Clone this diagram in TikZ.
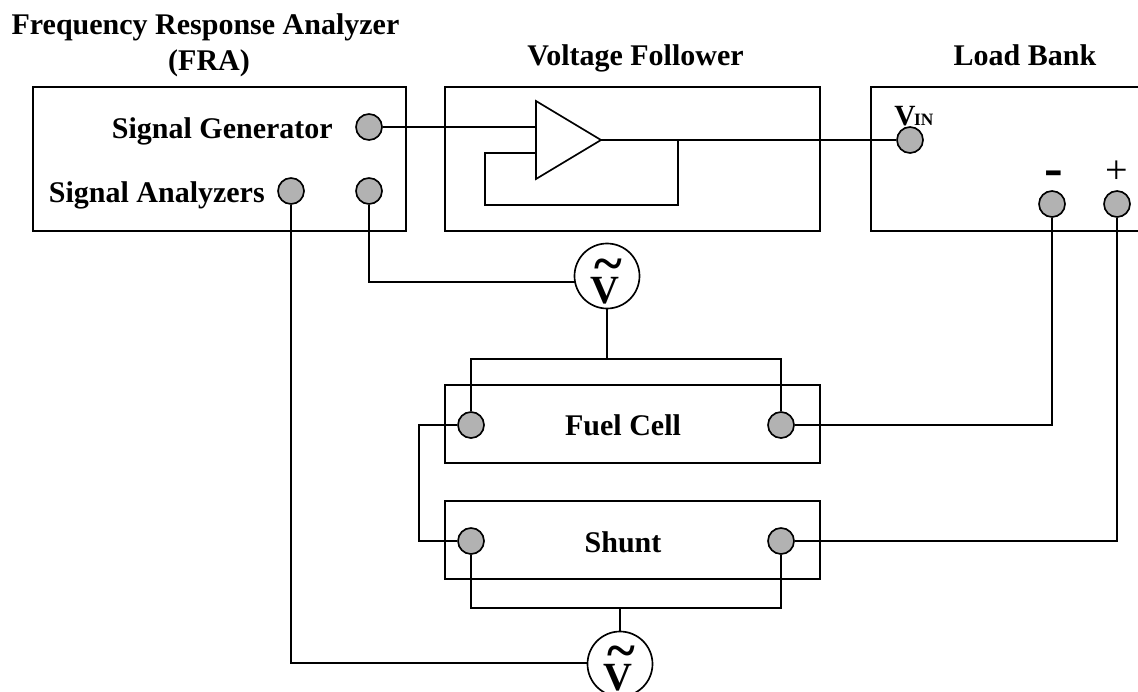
\documentclass[tikz,border=0pt]{standalone}
\usepackage{fontspec}
\setmainfont{Liberation Serif}
\definecolor{termgray}{HTML}{B2B2B2}
\newcommand{\px}{*0.75pt}
\tikzset{
 wire/.style={draw=black,line width=1.25pt},
 boxline/.style={draw=black,line width=1.25pt},
 term/.style={circle,draw=black,line width=1.25pt,fill=termgray,minimum size=26\px,inner sep=0pt},
 meter/.style={circle,draw=black,line width=1.25pt,fill=white,minimum size=65\px,inner sep=0pt},
 lab/.style={inner sep=0pt,anchor=base,font=\fontsize{22.5}{24}\selectfont\bfseries}
}
\begin{document}
\begin{tikzpicture}[x=0.75pt,y=-0.75pt]
\useasboundingbox (0,0) rectangle (1138,692);
% boxes
\draw[boxline] (33,87) rectangle (406,231);
\draw[boxline] (445,87) rectangle (820,231);
\draw[boxline] (1138,87) -- (871,87) -- (871,231) -- (1138,231);
\draw[boxline] (445,385) rectangle (820,463);
\draw[boxline] (445,501) rectangle (820,579);
% coordinates
\coordinate (ampA) at (536,101);
\coordinate (ampB) at (536,179);
\coordinate (ampOut) at (601,140);
\coordinate (ampIn1) at (536,127);
\coordinate (ampIn2) at (536,153);
\coordinate (fb1) at (485,153);
\coordinate (fb2) at (485,205);
\coordinate (fb3) at (678,205);
\coordinate (fb4) at (678,140);
\coordinate (top2) at (781,359);
\coordinate (topMid) at (607,359);
\coordinate (bot2) at (781,608);
\coordinate (botMid) at (620,608);
\coordinate (mid1) at (419,425);
\coordinate (mid2) at (419,541);
\coordinate (m1w) at (575,282);
\coordinate (m2w) at (588,663);
% terminals and meters
\node[term] (gen) at (369,127) {};
\node[term] (an1) at (291,191) {};
\node[term] (an2) at (369,191) {};
\node[term] (vin) at (910,140) {};
\node[term] (neg) at (1052,204) {};
\node[term] (pos) at (1117,204) {};
\node[term] (fcL) at (471,425) {};
\node[term] (fcR) at (781,425) {};
\node[term] (shL) at (471,541) {};
\node[term] (shR) at (781,541) {};
\node[meter] (m1) at (607,276) {};
\node[meter] (m2) at (620,664) {};
% amplifier
\draw[wire,line join=miter] (ampA) -- (ampOut) -- (ampB) -- cycle;
% connectors
\draw[wire] (gen.east) -- (ampIn1);
\draw[wire] (ampOut) -- (vin.west);
\draw[wire] (ampIn2) -- (fb1) -- (fb2) -- (fb3) -- (fb4);
\draw[wire] (an2.south) |- (m1w);
\draw[wire] (m1.south) -- (topMid);
\draw[wire] (fcL.north) |- (top2) -- (fcR.north);
\draw[wire] (fcR.east) -| (neg.south);
\draw[wire] (shR.east) -| (pos.south);
\draw[wire] (fcL.west) -- (mid1) -- (mid2) -- (shL.west);
\draw[wire] (shL.south) |- (bot2) -- (shR.south);
\draw[wire] (botMid) -- (m2.north);
\draw[wire] (an1.south) |- (m2w);
% labels
\node[lab] (t1) at (205.5,35) {Frequency Response Analyzer};
\node[lab] (t2) at (209,70) {(FRA)};
\node[lab] (t3) at (635.5,65) {Voltage Follower};
\node[lab] (t4) at (1025,65) {Load Bank};
\node[lab,anchor=base east] (t5) at (333,138) {Signal Generator};
\node[lab,anchor=base east] (t6) at (265,202) {Signal Analyzers};
\node[lab] (t7) at (623,435) {Fuel Cell};
\node[lab] (t8) at (623,552) {Shunt};
\node[lab,anchor=base west] (t9) at (894,125) {\fontsize{22}{24}\selectfont V\kern-1pt\fontsize{13}{14}\selectfont IN};
\node[lab] (t10) at (1053.5,186) {\fontsize{42}{44}\selectfont -};
\node[inner sep=0pt] (t11) at (1117,172) {\fontsize{30}{32}\selectfont +};
\node[lab] (v1) at (604.5,303) {\fontsize{30}{32}\selectfont V};
\node[lab] (s1) at (608,281) {\fontsize{40}{42}\selectfont \textasciitilde};
\node[lab] (v2) at (617.5,690) {\fontsize{30}{32}\selectfont V};
\node[lab] (s2) at (621,668) {\fontsize{40}{42}\selectfont \textasciitilde};
\end{tikzpicture}
\end{document}
